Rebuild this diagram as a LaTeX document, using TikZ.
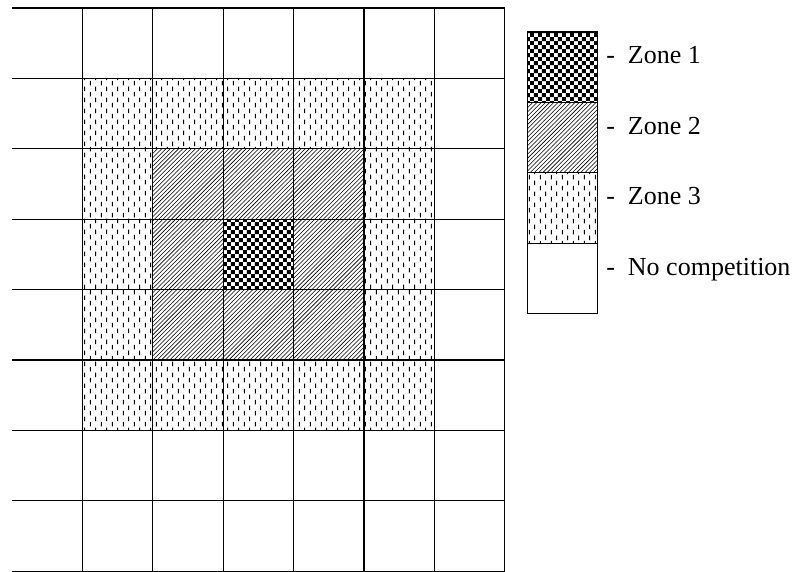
\documentclass[tikz,border=0pt]{standalone}
\usepackage{fontspec}
\setmainfont{Liberation Serif}
\usepackage{tikz}
\usetikzlibrary{patterns, patterns.meta}

\tikzdeclarepattern{
  name=zoneone,
  bounding box={(0,0) and (6pt,6pt)},
  tile size={(6pt,6pt)},
  code={
    \fill (0,0) rectangle (3pt,3pt);
    \fill (3pt,3pt) rectangle (6pt,6pt);
  }
}
\tikzdeclarepattern{
  name=zonethree,
  bounding box={(0,0) and (8pt,8pt)},
  tile size={(8pt,8pt)},
  code={
    \draw[line width=0.85pt] (1pt,0.4pt) -- (1pt,3.8pt) (5pt,4.4pt) -- (5pt,7.8pt);
  }
}

\tikzset{
  zone1/.style={pattern=zoneone},
  zone2/.style={pattern=north east lines},
  zone3/.style={pattern=zonethree},
  gridline/.style={line width=0.9pt, black}
}

\begin{document}
\begin{tikzpicture}[every node/.style={font=\fontsize{18.5}{22}\selectfont}]
  \useasboundingbox (0,0) rectangle (19.8,14.3);

  % Zones (white first, pattern on top)
  \fill[white] (2.06,3.54) rectangle (10.86,12.34);
  \fill[zone3] (2.06,3.54) rectangle (10.86,12.34);
  \fill[white] (3.82,5.30) rectangle (9.10,10.58);
  \fill[zone2] (3.82,5.30) rectangle (9.10,10.58);
  \fill[white] (5.58,7.06) rectangle (7.34,8.82);
  \fill[zone1] (5.58,7.06) rectangle (7.34,8.82);

  % Grid
  \foreach \k in {0,...,8}
    \draw[gridline] (0.3,14.1-1.76*\k) -- (12.62,14.1-1.76*\k);
  \foreach \i in {1,...,7}
    \draw[gridline] (0.3+1.76*\i,0.02) -- (0.3+1.76*\i,14.1);

  % Legend
  \foreach \n/\sty/\txt in {
    0/zone1/Zone 1,
    1/zone2/Zone 2,
    2/zone3/Zone 3,
    3/white/No competition
  }{
    \fill[white] (13.18,11.74-1.76*\n) rectangle (14.94,13.5-1.76*\n);
    \filldraw[\sty, draw=black, line width=0.9pt] (13.18,11.74-1.76*\n) rectangle (14.94,13.5-1.76*\n);
    \node[anchor=base west, inner sep=0pt] (lab\n) at (15.15,12.70-1.76*\n) {-~~\txt};
  }
\end{tikzpicture}
\end{document}
